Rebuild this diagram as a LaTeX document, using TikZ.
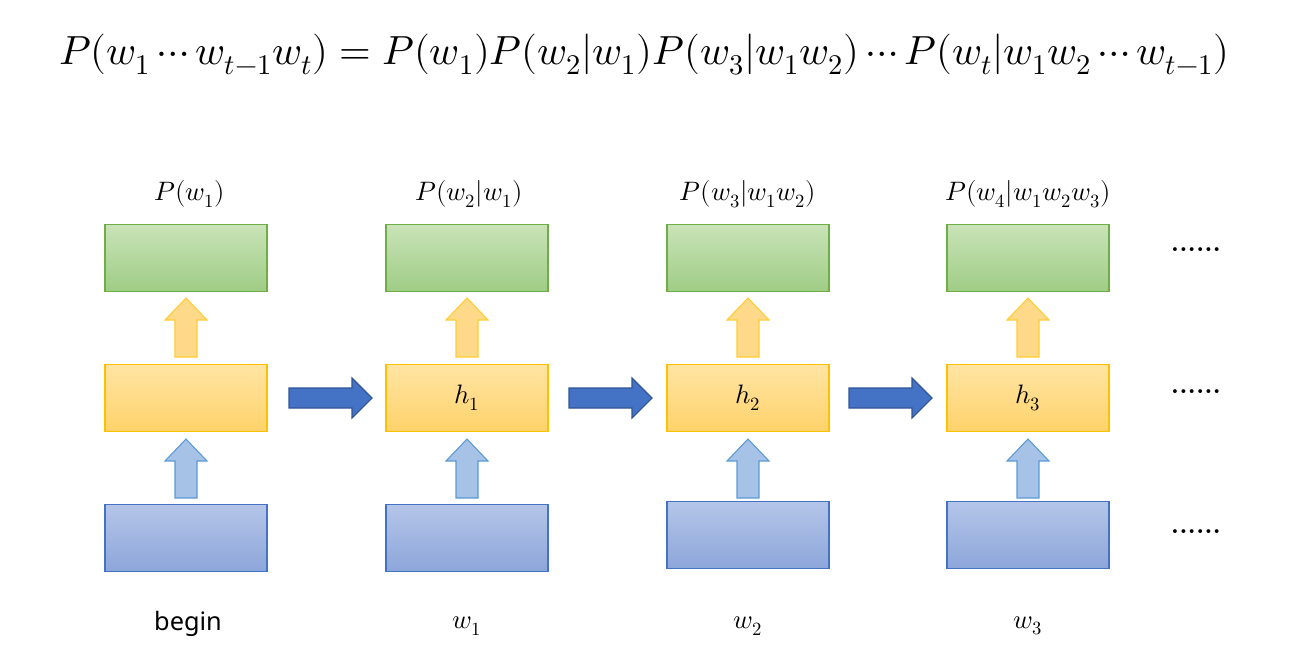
\documentclass[tikz,border=0pt]{standalone}
\usepackage{fontspec}
\usepackage{unicode-math}
\setmathfont{Latin Modern Math}
\newfontfamily\sansf{Noto Sans}
\definecolor{gT}{HTML}{C9E3B8}\definecolor{gB}{HTML}{9FCD85}\definecolor{gL}{HTML}{70AD47}
\definecolor{yT}{HTML}{FFE4A3}\definecolor{yB}{HTML}{FFD36B}\definecolor{yL}{HTML}{FFC000}
\definecolor{bT}{HTML}{B4C5E8}\definecolor{bB}{HTML}{8DA6DA}\definecolor{bL}{HTML}{4472C4}
\definecolor{aB}{HTML}{4472C4}\definecolor{aL}{HTML}{2F5597}
\definecolor{uB}{HTML}{A6C2E6}\definecolor{uL}{HTML}{5B9BD5}
\definecolor{yA}{HTML}{FFD98A}
\begin{document}
\begin{tikzpicture}[x=0.75pt,y=-0.75pt,
 box/.style={draw,line width=0.8pt,minimum width=121.5pt,minimum height=50pt,inner sep=0pt},
 gbox/.style={box,draw=gL,top color=gT,bottom color=gB},
 ybox/.style={box,draw=yL,top color=yT,bottom color=yB},
 bbox/.style={box,draw=bL,top color=bT,bottom color=bB},
 yarr/.style={draw=yL!80,fill=yA,line width=0.8pt},
 barr/.style={draw=uL,fill=uB,line width=0.8pt},
 rarr/.style={draw=aL,fill=aB,line width=0.8pt},
 lab/.style={font=\fontsize{20}{24}\selectfont},
 dots/.style={font=\fontsize{20}{20}\selectfont\bfseries}]
\useasboundingbox (0,0) rectangle (1293,661);
\node (eq) at (644,55) {\fontsize{30.5}{36}\selectfont $P(w_1\cdots w_{t-1}w_t)=P(w_1)P(w_2|w_1)P(w_3|w_1w_2)\cdots P(w_t|w_1w_2\cdots w_{t-1})$};
\foreach \i/\x/\by in {1/186/538,2/467/538,3/748/535,4/1028/535}{
 \node[gbox] (g\i) at (\x,258) {};
 \node[ybox] (y\i) at (\x,398) {};
 \node[bbox] (b\i) at (\x,\by) {};
 \draw[yarr] (\x,298) -- ++(21,22) -- ++(-10,0) -- ++(0,37) -- ++(-22,0) -- ++(0,-37) -- ++(-10,0) -- cycle;
 \draw[barr] (\x,439) -- ++(21,22) -- ++(-10,0) -- ++(0,37) -- ++(-22,0) -- ++(0,-37) -- ++(-10,0) -- cycle;
}
\node[lab] (h1) at (y2) {$h_1$};
\node[lab] (h2) at (y3) {$h_2$};
\node[lab] (h3) at (y4) {$h_3$};
\foreach \x in {289,569,849}{
 \draw[rarr] (\x,388) -- ++(63,0) -- ++(0,-10) -- ++(20,20) -- ++(-20,20) -- ++(0,-10) -- ++(-63,0) -- cycle;
}
\node[lab] (p1) at (190,194) {$P(w_1)$};
\node[lab] (p2) at (469,194) {$P(w_2|w_1)$};
\node[lab] (p3) at (748,194) {$P(w_3|w_1w_2)$};
\node[lab] (p4) at (1028,194) {$P(w_4|w_1w_2w_3)$};
\node[lab,font=\sansf\fontsize{19}{22}\selectfont] (w0) at (188,624) {begin};
\node[lab] (w1) at (467,626) {$w_1$};
\node[lab] (w2) at (748,626) {$w_2$};
\node[lab] (w3) at (1028,626) {$w_3$};
\node[dots] (d1) at (1196,250) {......};
\node[dots] (d2) at (1196,392) {......};
\node[dots] (d3) at (1196,532) {......};
\end{tikzpicture}
\end{document}
